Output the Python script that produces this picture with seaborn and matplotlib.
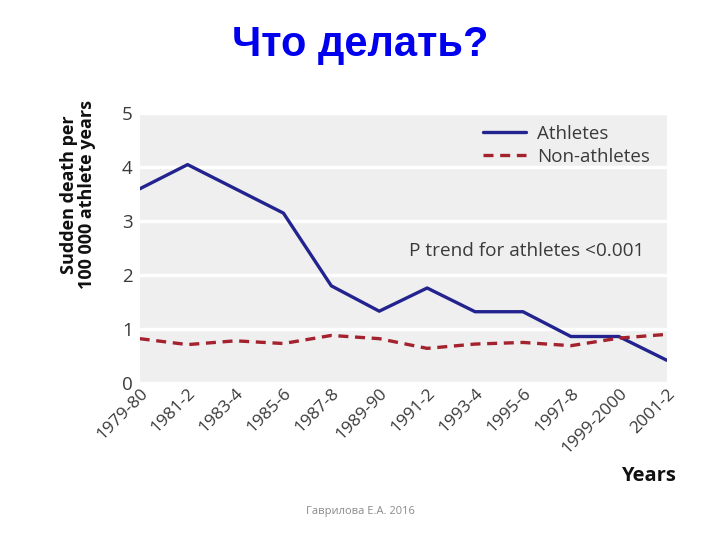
import matplotlib
matplotlib.use('Agg')

import matplotlib.pyplot as plt
import pandas as pd
import seaborn as sns
from matplotlib.lines import Line2D

periods = ['1979-80', '1981-2', '1983-4', '1985-6', '1987-8', '1989-90',
           '1991-2', '1993-4', '1995-6', '1997-8', '1999-2000', '2001-2']
athletes = [3.6, 4.05, 3.6, 3.15, 1.8, 1.33, 1.76, 1.32, 1.32, 0.86, 0.86, 0.42]
non_athletes = [0.82, 0.71, 0.78, 0.73, 0.88, 0.82, 0.64, 0.72, 0.75, 0.69, 0.83, 0.9]
y_ticks = [0, 1, 2, 3, 4, 5]

athlete_color = '#23238f'
non_athlete_color = '#a3222e'
text_color = '#3a3a3a'

sns.set_style('darkgrid', {'axes.facecolor': '#efefef', 'grid.color': 'white'})
plt.rcParams['font.family'] = ['Open Sans', 'DejaVu Sans']

df = pd.DataFrame({'period': periods, 'Athletes': athletes, 'Non-athletes': non_athletes})

fig = plt.figure(figsize=(7.2, 5.4), dpi=100)
ax = fig.add_axes([0.194, 0.291, 0.732, 0.499])

sns.lineplot(data=df, x='period', y='Athletes', ax=ax, color=athlete_color,
             linewidth=2.4, sort=False)
sns.lineplot(data=df, x='period', y='Non-athletes', ax=ax, color=non_athlete_color,
             linewidth=2.4, linestyle=(0, (3, 2)), sort=False)

ax.set_xlim(0, len(periods) - 1)
ax.set_ylim(0, 5)
ax.set_yticks(y_ticks)
ax.grid(axis='x', visible=False)
ax.grid(axis='y', color='white', linewidth=2.5)
for s in ax.spines.values():
    s.set_visible(False)

ax.tick_params(axis='y', labelsize=13.5, colors=text_color, length=0, pad=5)
ax.tick_params(axis='x', labelsize=12.5, colors=text_color, length=4, width=1.2,
               direction='in', pad=2)
ax.tick_params(axis='x', color='white')
plt.setp(ax.get_xticklabels(), rotation=45, ha='right', rotation_mode='anchor')

ax.set_xlabel('')
ax.set_ylabel('Sudden death per\n100 000 athlete years', fontsize=13,
              fontweight='bold', color='#111111', linespacing=1.05)
ax.yaxis.set_label_coords(-0.082, 0.7)

handles = [Line2D([], [], color=athlete_color, linewidth=2.4),
           Line2D([], [], color=non_athlete_color, linewidth=2.4, linestyle=(0, (3, 2)))]
leg = ax.legend(handles, ['Athletes', 'Non-athletes'], loc='upper right',
                bbox_to_anchor=(1.0, 1.02), frameon=False, fontsize=13.5,
                handlelength=2.3, labelspacing=0.25, handletextpad=0.6)
for t in leg.get_texts():
    t.set_color(text_color)

ax.text(0.958, 0.49, 'P trend for athletes <0.001', transform=ax.transAxes,
        ha='right', va='center', fontsize=13.7, color=text_color)

fig.text(0.9, 0.118, 'Years', ha='center', va='center', fontsize=14.5,
         fontweight='bold', color='#111111')
fig.text(0.5, 0.917, 'Что делать?', ha='center', va='center', fontsize=30,
         fontweight='bold', color='#0000ee', family=['Liberation Sans', 'DejaVu Sans'])
fig.text(0.5, 0.052, 'Гаврилова Е.А. 2016', ha='center', va='center', fontsize=8,
         color='#8a8a8a')

fig.savefig('out.png', dpi=100, facecolor='white')
